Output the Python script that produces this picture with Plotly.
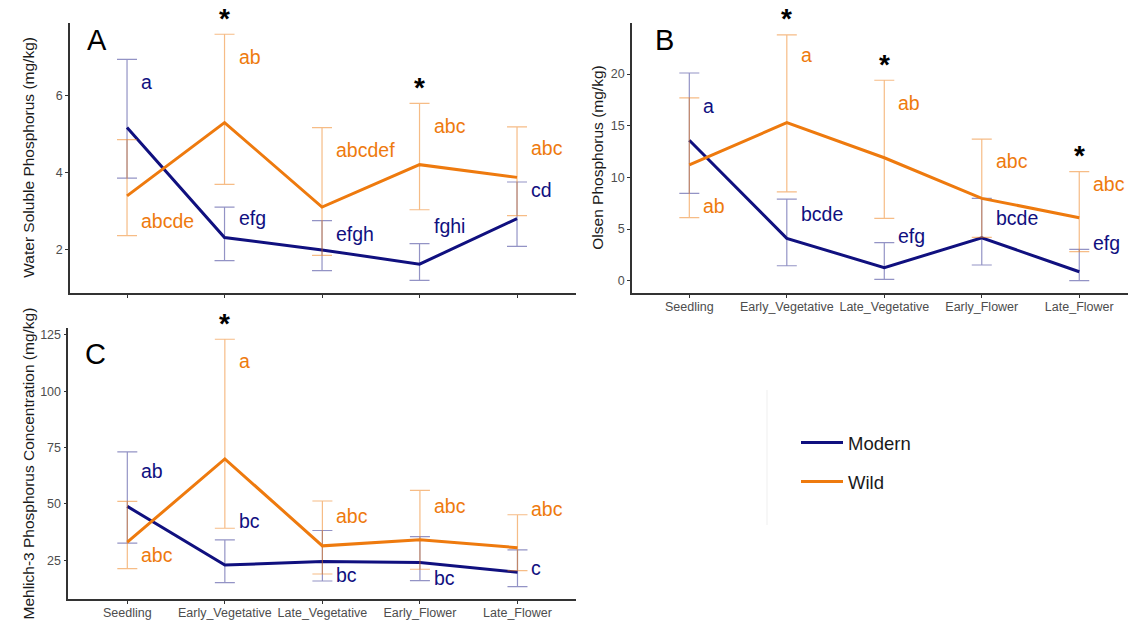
import plotly.graph_objects as go

stages = ["Seedling", "Early_Vegetative", "Late_Vegetative", "Early_Flower", "Late_Flower"]

# ---- Panel A : Water Soluble Phosphorus ----
a_modern_mean = [5.17, 2.32, 2.00, 1.63, 2.81]
a_modern_upper = [6.94, 3.11, 2.76, 2.16, 3.76]
a_modern_lower = [3.86, 1.72, 1.46, 1.21, 2.09]
a_wild_mean = [3.40, 5.30, 3.11, 4.21, 3.88]
a_wild_upper = [4.86, 7.59, 5.17, 5.80, 5.19]
a_wild_lower = [2.37, 3.70, 1.86, 3.04, 2.89]
a_modern_letters = ["a", "efg", "efgh", "fghi", "cd"]
a_modern_letter_y = [6.36, 2.82, 2.41, 2.62, 3.56]
a_wild_letters = ["abcde", "ab", "abcdef", "abc", "abc"]
a_wild_letter_y = [2.76, 6.99, 4.59, 5.22, 4.65]
a_signif = [False, True, False, True, False]

# ---- Panel B : Olsen Phosphorus ----
b_modern_mean = [13.6, 4.1, 1.26, 4.15, 0.87]
b_modern_upper = [20.1, 7.9, 3.68, 7.97, 3.04]
b_modern_lower = [8.45, 1.45, 0.13, 1.52, 0.0]
b_wild_mean = [11.2, 15.3, 11.9, 7.97, 6.1]
b_wild_upper = [17.7, 23.8, 19.4, 13.7, 10.55]
b_wild_lower = [6.1, 8.6, 6.03, 4.2, 2.81]
b_modern_letters = ["a", "bcde", "efg", "bcde", "efg"]
b_modern_letter_y = [16.9, 6.45, 4.32, 6.03, 3.68]
b_wild_letters = ["ab", "a", "ab", "abc", "abc"]
b_wild_letter_y = [7.26, 21.8, 17.2, 11.6, 9.32]
b_signif = [False, True, True, False, True]

# ---- Panel C : Mehlich-3 Phosphorus ----
c_modern_mean = [48.9, 22.9, 24.4, 24.0, 19.7]
c_modern_upper = [73.1, 34.05, 38.2, 35.5, 29.6]
c_modern_lower = [32.6, 15.06, 15.8, 15.95, 13.3]
c_wild_mean = [33.0, 70.0, 31.4, 34.05, 30.6]
c_wild_upper = [51.1, 123.1, 51.3, 56.0, 45.2]
c_wild_lower = [21.3, 39.2, 18.9, 21.0, 20.4]
c_modern_letters = ["ab", "bc", "bc", "bc", "c"]
c_modern_letter_y = [64.8, 42.5, 18.5, 17.3, 21.7]
c_wild_letters = ["abc", "a", "abc", "abc", "abc"]
c_wild_letter_y = [27.4, 113.4, 44.7, 49.3, 47.7]
c_signif = [False, True, False, False, False]

MODERN = "#10107f"
WILD = "#EE7A0E"
MODERN_BAR = "rgba(16,16,127,0.45)"
WILD_BAR = "rgba(238,122,14,0.5)"
FONT = "Liberation Sans, Arial, sans-serif"

W, H = 1128, 625
xs = list(range(len(stages)))

fig = go.Figure()

panels = [
    dict(ax="", mm=a_modern_mean, mu=a_modern_upper, ml=a_modern_lower,
         wm=a_wild_mean, wu=a_wild_upper, wl=a_wild_lower,
         ml_t=a_modern_letters, ml_y=a_modern_letter_y,
         wl_t=a_wild_letters, wl_y=a_wild_letter_y, sig=a_signif),
    dict(ax="2", mm=b_modern_mean, mu=b_modern_upper, ml=b_modern_lower,
         wm=b_wild_mean, wu=b_wild_upper, wl=b_wild_lower,
         ml_t=b_modern_letters, ml_y=b_modern_letter_y,
         wl_t=b_wild_letters, wl_y=b_wild_letter_y, sig=b_signif),
    dict(ax="3", mm=c_modern_mean, mu=c_modern_upper, ml=c_modern_lower,
         wm=c_wild_mean, wu=c_wild_upper, wl=c_wild_lower,
         ml_t=c_modern_letters, ml_y=c_modern_letter_y,
         wl_t=c_wild_letters, wl_y=c_wild_letter_y, sig=c_signif),
]

annotations = []
for pi, p in enumerate(panels):
    xa, ya = "x" + p["ax"], "y" + p["ax"]
    for name, mean, up, lo, col, bar in [
        ("Modern", p["mm"], p["mu"], p["ml"], MODERN, MODERN_BAR),
        ("Wild", p["wm"], p["wu"], p["wl"], WILD, WILD_BAR),
    ]:
        fig.add_trace(go.Scatter(
            x=xs, y=mean, mode="lines", name=name, legendgroup=name,
            showlegend=(pi == 0), xaxis=xa, yaxis=ya,
            line=dict(color=col, width=3), cliponaxis=False,
            error_y=dict(type="data", symmetric=False,
                         array=[u - m for u, m in zip(up, mean)],
                         arrayminus=[m - l for m, l in zip(mean, lo)],
                         color=bar, thickness=1.2, width=10),
        ))
    for i in xs:
        annotations.append(dict(x=i, y=p["ml_y"][i], xref=xa, yref=ya, text=p["ml_t"][i],
                                showarrow=False, xanchor="left", yanchor="middle", xshift=12,
                                font=dict(family=FONT, size=19.5, color=MODERN)))
        annotations.append(dict(x=i, y=p["wl_y"][i], xref=xa, yref=ya, text=p["wl_t"][i],
                                showarrow=False, xanchor="left", yanchor="middle", xshift=12,
                                font=dict(family=FONT, size=19.5, color=WILD)))
        if p["sig"][i]:
            annotations.append(dict(x=i, y=max(p["wu"][i], p["mu"][i]), xref=xa, yref=ya,
                                    text="<b>*</b>", showarrow=False, xanchor="center",
                                    yanchor="middle", yshift=16,
                                    font=dict(family=FONT, size=28, color="black")))

# panel letters
for letter, px, py in [("A", 97, 40), ("B", 664, 40), ("C", 95, 354)]:
    annotations.append(dict(x=px / W, y=1 - py / H, xref="paper", yref="paper", text=letter,
                            showarrow=False, xanchor="center", yanchor="middle",
                            font=dict(family=FONT, size=29, color="black")))

# y-axis titles
for title, px, py in [("Water Soluble Phosphorus (mg/kg)", 29, 157.7),
                      ("Olsen Phosphorus (mg/kg)", 598, 157.7),
                      ("Mehlich-3 Phosphorus Concentration (mg/kg)", 28, 463.5)]:
    annotations.append(dict(x=px / W, y=1 - py / H, xref="paper", yref="paper", text=title,
                            showarrow=False, textangle=-90, xanchor="center", yanchor="middle",
                            font=dict(family=FONT, size=15.5, color="#1a1a1a")))

axis_common = dict(showline=True, linecolor="#333333", linewidth=1.6, ticks="outside",
                   ticklen=3, tickcolor="#333333", tickwidth=1, showgrid=False, zeroline=False,
                   automargin=False, tickfont=dict(family=FONT, size=12.5, color="#4d4d4d"))

fig.update_layout(
    width=W, height=H, margin=dict(l=0, r=0, t=0, b=0),
    paper_bgcolor="white", plot_bgcolor="white",
    font=dict(family=FONT),
    xaxis=dict(domain=[70 / W, 576 / W], range=[-0.585, 4.605], tickvals=xs,
               ticktext=["" for _ in stages], anchor="y", **axis_common),
    yaxis=dict(domain=[1 - 292.7 / H, 1 - 22.7 / H], range=[0.89, 7.89],
               tickvals=[2, 4, 6], anchor="x", **axis_common),
    xaxis2=dict(domain=[632 / W, 1.0], range=[-0.588, 4.50], tickvals=xs,
                ticktext=stages, anchor="y2", ticklabelstandoff=-2, **axis_common),
    yaxis2=dict(domain=[1 - 292.7 / H, 1 - 22.7 / H], range=[-1.16, 24.97],
                tickvals=[0, 5, 10, 15, 20], anchor="x2", **axis_common),
    xaxis3=dict(domain=[68.3 / W, 576 / W], range=[-0.605, 4.60], tickvals=xs,
                ticktext=stages, anchor="y3", ticklabelstandoff=-2, **axis_common),
    yaxis3=dict(domain=[1 - 599 / H, 1 - 328 / H], range=[7.8, 128.1],
                tickvals=[25, 50, 75, 100, 125], anchor="x3", **axis_common),
    legend=dict(x=796 / W, y=1 - 424 / H, xanchor="left", yanchor="top",
                font=dict(family=FONT, size=18.5, color="#1a1a1a"),
                itemwidth=42, tracegroupgap=12, bgcolor="rgba(0,0,0,0)"),
    annotations=annotations,
    shapes=[
        dict(type="line", xref="paper", yref="paper", x0=767 / W, x1=767 / W,
             y0=1 - 390 / H, y1=1 - 525 / H, line=dict(color="#efefef", width=1)),
    ],
)

fig.write_html("out.html")
